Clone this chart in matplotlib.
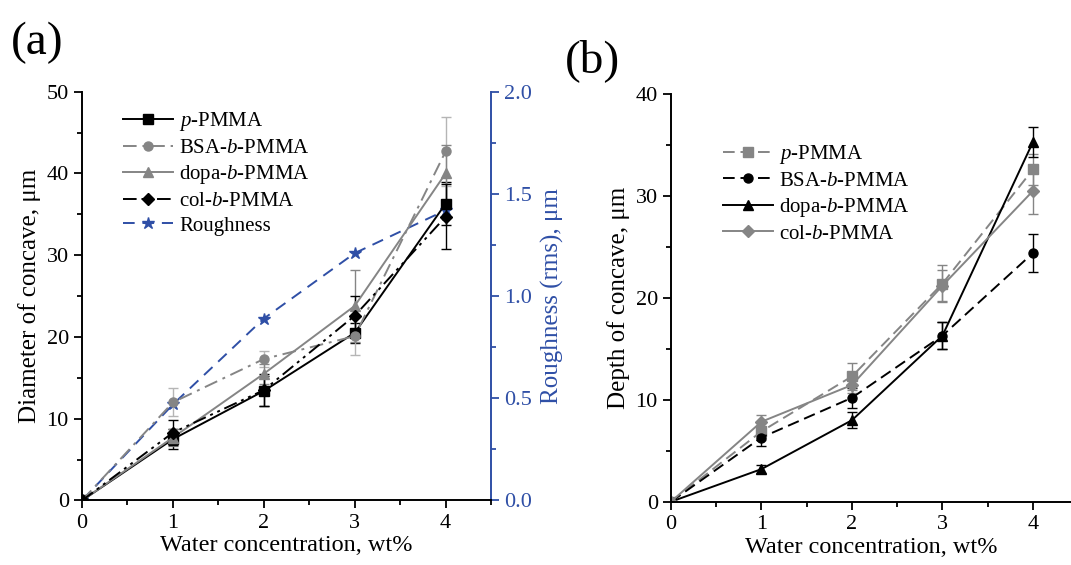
import numpy as np
import matplotlib
matplotlib.use("Agg")
import matplotlib.pyplot as plt
from matplotlib.ticker import MultipleLocator, FormatStrFormatter

plt.rcParams['font.family'] = ['Liberation Serif', 'DejaVu Serif']
plt.rcParams['mathtext.fontset'] = 'custom'
plt.rcParams['mathtext.rm'] = 'Liberation Serif'
plt.rcParams['mathtext.it'] = 'Liberation Serif:italic'

# Data
water = [0, 1, 2, 3, 4]

# panel (a): diameter of concave (um)
dia_p = [0, 7.5, 13.4, 20.5, 36.3]
dia_p_err = [0, 1.2, 1.8, 1.2, 2.6]
dia_bsa = [0, 12.0, 17.3, 20.1, 42.7]
dia_bsa_err = [0, 1.7, 1.0, 2.3, 4.2]
dia_dopa = [0, 7.7, 15.5, 23.8, 40.0]
dia_dopa_err = [0, 1.0, 1.2, 4.4, 3.5]
dia_col = [0, 8.3, 13.5, 22.6, 34.7]
dia_col_err = [0, 1.5, 2.0, 2.4, 4.0]
roughness = [0, 0.47, 0.89, 1.21, 1.42]

# panel (b): depth of concave (um)
dep_p = [0, 6.9, 12.3, 21.4, 32.6]
dep_p_err = [0, 0.8, 1.3, 1.8, 1.5]
dep_bsa = [0, 6.3, 10.2, 16.3, 24.4]
dep_bsa_err = [0, 0.8, 1.0, 1.3, 1.9]
dep_dopa = [0, 3.2, 8.0, 16.3, 35.3]
dep_dopa_err = [0, 0.4, 0.8, 1.3, 1.5]
dep_col = [0, 7.85, 11.45, 21.2, 30.5]
dep_col_err = [0, 0.7, 0.8, 1.5, 2.3]

labels = [r'$\it{p}$-PMMA', r'BSA-$\it{b}$-PMMA', r'dopa-$\it{b}$-PMMA', r'col-$\it{b}$-PMMA']

GRAY = '#858585'
BLUE = '#2f4fa6'
FS_TICK = 16
FS_LAB = 18
FS_LEG = 15

fig = plt.figure(figsize=(10.71, 5.65), dpi=100)


def style_axis(ax, ymax, ymajor, yminor, xmax):
    ax.set_xlim(0, xmax)
    ax.set_ylim(0, ymax)
    ax.xaxis.set_major_locator(MultipleLocator(1))
    ax.xaxis.set_minor_locator(MultipleLocator(0.5))
    ax.yaxis.set_major_locator(MultipleLocator(ymajor))
    ax.yaxis.set_minor_locator(MultipleLocator(yminor))
    ax.tick_params(which='major', direction='out', length=6, width=1.3, labelsize=FS_TICK)
    ax.tick_params(which='minor', direction='out', length=3.5, width=1.3)
    ax.spines['top'].set_visible(False)
    ax.spines['right'].set_visible(False)
    for s in ['left', 'bottom']:
        ax.spines[s].set_linewidth(1.4)
    ax.set_xlabel('Water concentration, wt%', fontsize=17.5, labelpad=2)


def series(ax, y, err, color, ls, marker, ecolor=None):
    c = ax.errorbar(water, y, yerr=err, color=color, ls=ls, marker=marker, ms=6.5,
                    lw=1.4, capsize=3.5, elinewidth=1.0, capthick=1.0,
                    ecolor=ecolor or color)
    return c[0]


# ---- panel (a)
ax1 = fig.add_axes([0.0766, 0.1142, 0.3819, 0.7235])
style_axis(ax1, 50, 10, 5, 4.5)
ha = [
    series(ax1, dia_p, dia_p_err, 'black', '-', 's'),
    series(ax1, dia_bsa, dia_bsa_err, GRAY, (0, (7, 3, 1.5, 3)), 'o', ecolor='#b5b5b5'),
    series(ax1, dia_dopa, dia_dopa_err, GRAY, '-', '^'),
    series(ax1, dia_col, dia_col_err, 'black', (0, (7, 2.5, 1.5, 2.5, 1.5, 2.5)), 'D'),
]
ax1.set_ylabel('Diameter of concave, μm', fontsize=FS_LAB, labelpad=4)

ax1r = ax1.twinx()
ax1r.set_ylim(0, 2.0)
ax1r.yaxis.set_major_locator(MultipleLocator(0.5))
ax1r.yaxis.set_minor_locator(MultipleLocator(0.25))
rough_line, = ax1r.plot(water, roughness, color=BLUE, ls=(0, (6, 4)), marker='*',
                        ms=9, lw=1.4)
ax1r.tick_params(which='major', direction='out', length=6, width=1.3,
                 labelsize=FS_TICK, colors=BLUE)
ax1r.tick_params(which='minor', direction='out', length=3.5, width=1.3, colors=BLUE)
ax1r.yaxis.set_major_formatter(FormatStrFormatter('%.1f'))
for s in ['top', 'left', 'bottom']:
    ax1r.spines[s].set_visible(False)
ax1r.spines['right'].set_color(BLUE)
ax1r.spines['right'].set_linewidth(1.4)
ax1r.set_ylabel('Roughness (rms), μm', fontsize=FS_LAB, color=BLUE, labelpad=6)

ax1.legend(ha + [rough_line], labels + ['Roughness'], loc='upper left',
           bbox_to_anchor=(0.1, 0.955), frameon=False, fontsize=FS_LEG,
           handlelength=2.4, handletextpad=0.3, labelspacing=0.25, borderpad=0,
           borderaxespad=0)
ax1.set_zorder(ax1r.get_zorder() + 1)
ax1.patch.set_visible(False)

# ---- panel (b)
ax2 = fig.add_axes([0.6265, 0.112, 0.3735, 0.7216])
style_axis(ax2, 40, 10, 5, 4.42)
hb = [
    series(ax2, dep_p, dep_p_err, GRAY, (0, (6, 3)), 's'),
    series(ax2, dep_bsa, dep_bsa_err, 'black', (0, (6, 3)), 'o'),
    series(ax2, dep_dopa, dep_dopa_err, 'black', '-', '^'),
    series(ax2, dep_col, dep_col_err, GRAY, '-', 'D'),
]
ax2.set_ylabel('Depth of concave, μm', fontsize=FS_LAB, labelpad=4)
ax2.legend(hb, labels, loc='upper left', bbox_to_anchor=(0.13, 0.88), frameon=False,
           fontsize=FS_LEG, handlelength=2.4, handletextpad=0.3, labelspacing=0.25,
           borderpad=0, borderaxespad=0)

fig.text(0.035, 0.924, '(a)', fontsize=34, ha='center', va='center')
fig.text(0.553, 0.892, '(b)', fontsize=34, ha='center', va='center')

fig.savefig('out.png', dpi=100)
